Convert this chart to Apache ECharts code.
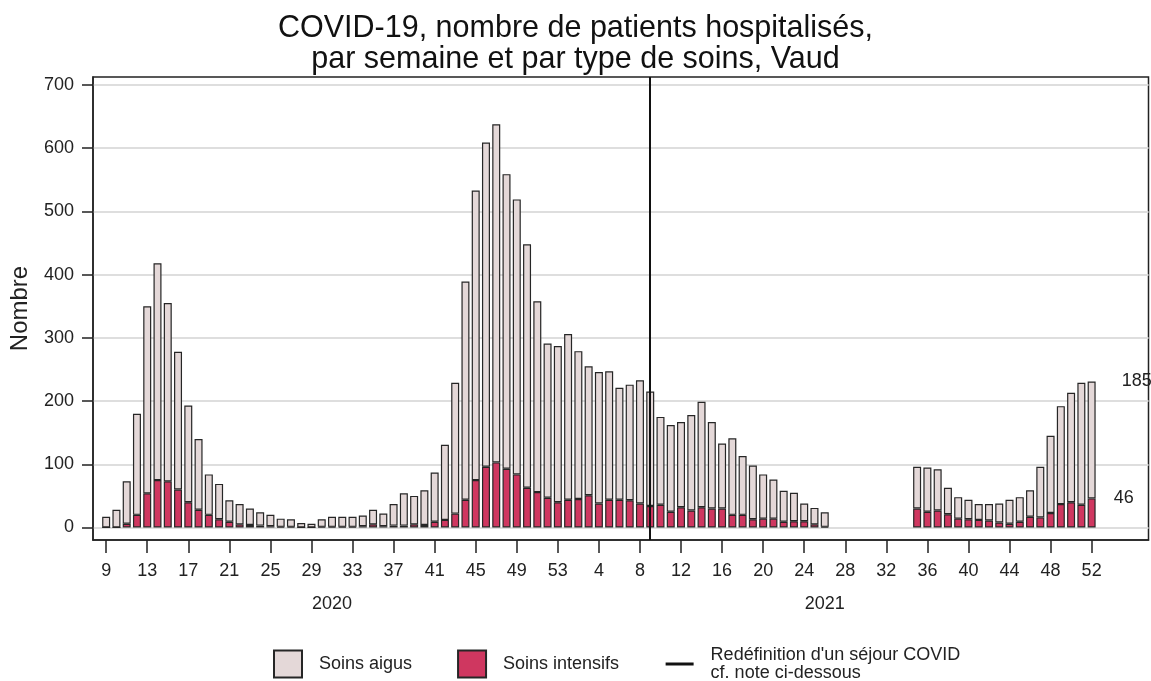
<!DOCTYPE html>
<html>
<head>
<meta charset="utf-8">
<script src="https://cdn.jsdelivr.net/npm/echarts@6/dist/echarts.min.js"></script>
<style>
html,body{margin:0;padding:0;background:#fff;}
#chart{width:1151px;height:681px;}
</style>
</head>
<body>
<div id="chart"></div>
<script>
// Week numbers (2020 w9..w53, then 2021 w1..w52)
const weeks = [9,10,11,12,13,14,15,16,17,18,19,20,21,22,23,24,25,26,27,28,29,30,31,32,33,34,35,36,37,38,39,40,41,42,43,44,45,46,47,48,49,50,51,52,53,
  1,2,3,4,5,6,7,8,9,10,11,12,13,14,15,16,17,18,19,20,21,22,23,24,25,26,27,28,29,30,31,32,33,34,35,36,37,38,39,40,41,42,43,44,45,46,47,48,49,50,51,52];
const years = ['2020','2021'];
const yearCenterIdx = [22, 70];
const redefinitionIdx = 53; // 2021 week 9

const soinsIntensifs = [0,0,6,20,54,75,73,60,40,28,20,13,9,5,4,3,2,1,1,0,0,1,1,1,1,2,5,2,3,3,5,4,9,12,22,44,75,96,103,93,84,63,56,47,40,
  44,45,51,38,44,44,43,38,34,36,25,32,27,32,30,30,20,20,13,14,14,9,10,10,5,1,null,null,null,null,null,null,null,null,30,25,27,21,14,13,12,11,8,6,9,17,16,23,37,40,36,46];
const soinsAigus = [17,28,67,160,296,343,282,218,153,112,64,56,34,32,26,21,18,13,12,7,6,12,16,16,16,17,23,20,34,51,45,55,78,119,207,345,458,513,535,466,435,385,302,244,247,
  262,234,204,208,203,177,183,195,181,139,137,135,151,167,137,103,121,93,85,70,62,49,45,28,26,23,null,null,null,null,null,null,null,null,66,70,65,42,34,31,25,26,30,38,39,42,80,122,155,173,193,185];
const yTicks = [0,100,200,300,400,500,600,700];

const FONT = '"Liberation Sans", Arial, sans-serif';
const lastIdx = weeks.length - 1;

// pairs are [value, weekIndex] so the value dimension is the stacked one
function toPairs(arr, lastLabel) {
  const out = [];
  arr.forEach((v, i) => {
    if (v === null) return;
    const item = { value: [v, i] };
    if (i === lastIdx && lastLabel) item.label = lastLabel;
    out.push(item);
  });
  return out;
}

const tickIdx = weeks.map((w, i) => i).filter(i => i % 4 === 0);

const chart = echarts.init(document.getElementById('chart'), null, { renderer: 'canvas' });
chart.setOption({
  animation: false,
  backgroundColor: '#ffffff',
  textStyle: { fontFamily: FONT },
  title: {
    text: 'COVID-19, nombre de patients hospitalisés,\npar semaine et par type de soins, Vaud',
    left: 'center',
    top: 8,
    textStyle: { fontFamily: FONT, fontSize: 30.5, fontWeight: 'normal', color: '#111', lineHeight: 31 }
  },
  legend: {
    top: 641,
    left: 268,
    itemWidth: 28,
    itemHeight: 27,
    itemGap: 45,
    data: [
      { name: 'Soins aigus', icon: 'rect' },
      { name: 'Soins intensifs', icon: 'rect' },
      { name: "Redéfinition d'un séjour COVID\ncf. note ci-dessous",
        itemStyle: { color: 'rgba(0,0,0,0)', borderWidth: 0, opacity: 0 },
        lineStyle: { color: '#111', width: 3 } }
    ],
    textStyle: { fontFamily: FONT, fontSize: 18, color: '#222', lineHeight: 18, padding: [0, 0, 0, 12] }
  },
  grid: {
    left: 90.5, right: 2.5, top: 77, bottom: 141,
    show: true, borderColor: '#222', borderWidth: 1.5, backgroundColor: 'transparent'
  },
  xAxis: [
    {
      type: 'value', min: -1.283, max: 101.54, position: 'bottom',
      axisLine: { show: true, onZero: false, lineStyle: { color: '#222', width: 1.5 } },
      axisTick: { show: true, length: 13, customValues: tickIdx, lineStyle: { color: '#222', width: 1.5 } },
      axisLabel: {
        customValues: tickIdx, margin: 22, fontSize: 18, color: '#222', fontFamily: FONT,
        formatter: v => String(weeks[Math.round(v)])
      },
      splitLine: { show: false }
    },
    {
      type: 'value', min: -1.283, max: 101.54, position: 'bottom',
      axisLine: { show: false, onZero: false },
      axisTick: { show: false },
      axisLabel: {
        customValues: yearCenterIdx, margin: 55, fontSize: 18, color: '#222', fontFamily: FONT,
        formatter: v => years[yearCenterIdx.indexOf(v)]
      },
      splitLine: { show: false }
    }
  ],
  yAxis: {
    type: 'value', min: -19.77, max: 712.66,
    name: 'Nombre', nameLocation: 'middle', nameRotate: 90, nameGap: 61,
    nameTextStyle: { fontSize: 24, color: '#222', fontFamily: FONT },
    axisLine: { show: true, onZero: false, lineStyle: { color: '#222', width: 1.5 } },
    axisTick: { show: true, length: 11, customValues: yTicks, lineStyle: { color: '#222', width: 1.5 } },
    axisLabel: { customValues: yTicks, margin: 19, fontSize: 18, color: '#222', fontFamily: FONT },
    splitLine: { show: true, lineStyle: { color: '#dedede', width: 2 } }
  },
  series: [
    {
      name: 'Soins intensifs', type: 'bar', stack: 'total', barWidth: 8,
      xAxisIndex: 0, encode: { x: 1, y: 0 },
      itemStyle: { color: '#cf3760', borderColor: '#262626', borderWidth: 1.2 },
      data: toPairs(soinsIntensifs, {
        show: true, position: [26, 0], align: 'left', verticalAlign: 'middle',
        fontSize: 18, color: '#222', fontFamily: FONT, formatter: p => String(p.value[0])
      })
    },
    {
      name: 'Soins aigus', type: 'bar', stack: 'total', barWidth: 8,
      xAxisIndex: 0, encode: { x: 1, y: 0 },
      itemStyle: { color: '#e4d8d8', borderColor: '#262626', borderWidth: 1.2 },
      data: toPairs(soinsAigus, {
        show: true, position: [34, 0], align: 'left', verticalAlign: 'middle',
        fontSize: 18, color: '#222', fontFamily: FONT, formatter: p => String(p.value[0])
      })
    },
    {
      name: "Redéfinition d'un séjour COVID\ncf. note ci-dessous", type: 'line', symbol: 'none',
      xAxisIndex: 0,
      lineStyle: { color: '#111', width: 3 },
      itemStyle: { color: '#111' },
      data: [],
      markLine: {
        silent: true, symbol: ['none', 'none'],
        label: { show: false },
        lineStyle: { color: '#111', width: 2, type: 'solid' },
        data: [{ xAxis: redefinitionIdx }]
      }
    }
  ]
});
</script>
</body>
</html>
